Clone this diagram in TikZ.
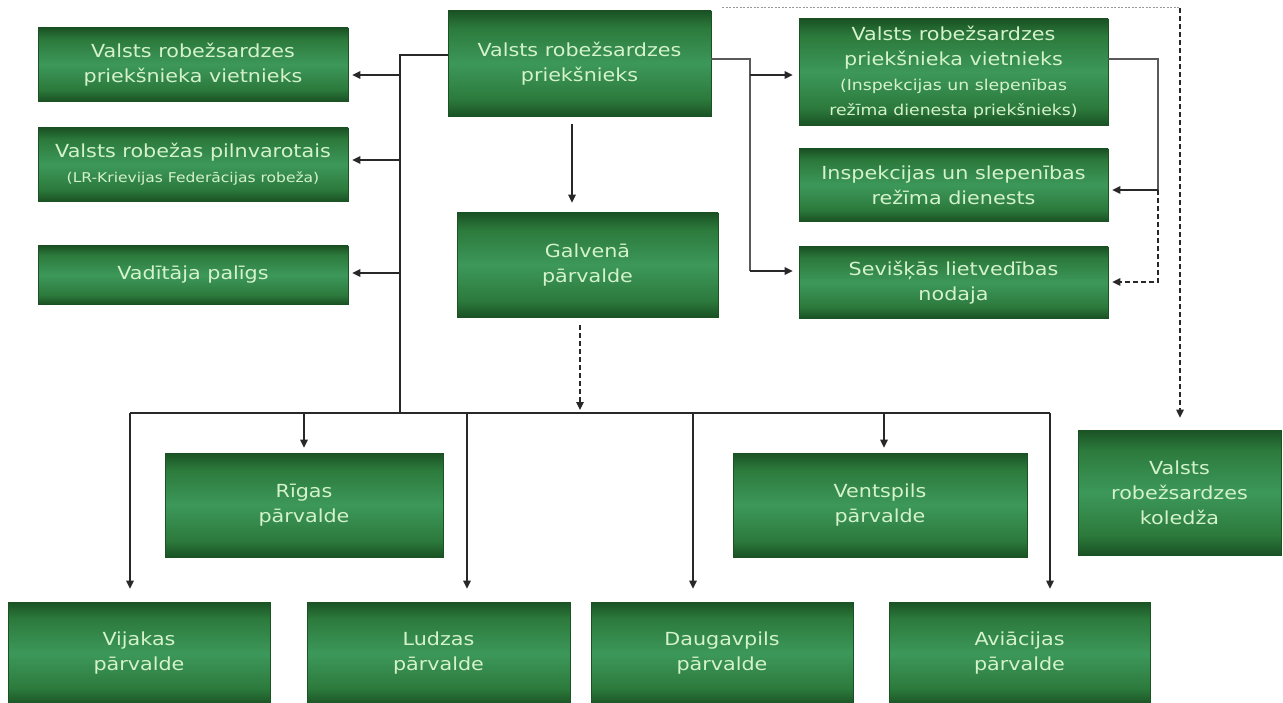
\documentclass[tikz,border=0pt]{standalone}
\usepackage{fontspec}
\setmainfont{DejaVu Sans}[FakeStretch=1.15]
\usetikzlibrary{arrows.meta}
\definecolor{gdk}{RGB}{26,82,36}
\definecolor{gmd}{RGB}{44,122,60}
\definecolor{glt}{RGB}{60,152,90}
\definecolor{gtx}{RGB}{212,242,204}
\definecolor{lnc}{RGB}{40,40,40}
\pgfdeclareverticalshading{boxshade}{100bp}{color(0bp)=(gdk); color(25bp)=(gdk); color(33bp)=(gmd); color(50bp)=(glt); color(67bp)=(gmd); color(75bp)=(gdk); color(100bp)=(gdk)}
\newcommand\fBig{\fontsize{18}{25}\selectfont}
\newcommand\fMid{\fontsize{15}{20}\selectfont}
\newcommand\fSmall{\fontsize{13.5}{19}\selectfont}
\begin{document}
\begin{tikzpicture}[x=1pt,y=-1pt,
  box/.style={rectangle, shading=boxshade, draw=gdk, line width=0.6pt, text=gtx, align=center, font=\fBig, inner sep=2pt},
  ln/.style={line width=1.1pt, draw=lnc},
  arr/.style={ln, -{Triangle[length=8pt,width=7.5pt]}},
  darr/.style={arr, dash pattern=on 5pt off 3pt},
  dotline/.style={line width=1pt, draw=black!40, dash pattern=on 2pt off 1.5pt}]
\useasboundingbox (0,0) rectangle (1283,703);

% boxes
\node[box, minimum width=310pt, minimum height=73pt] (lA) at (193,64.5) {Valsts robežsardzes\\priekšnieka vietnieks};
\node[box, minimum width=310pt, minimum height=73pt] (lB) at (193,164.5) {Valsts robežas pilnvarotais\\{\fSmall (LR-Krievijas Federācijas robeža)}};
\node[box, minimum width=310pt, minimum height=58pt] (lC) at (193,275) {Vadītāja palīgs};
\node[box, minimum width=263pt, minimum height=105pt] (top) at (579.5,63.5) {Valsts robežsardzes\\priekšnieks};
\node[box, minimum width=261pt, minimum height=104pt] (gal) at (587.5,265) {Galvenā\\pārvalde};
\node[box, minimum width=309pt, minimum height=106pt] (rA) at (953.5,72) {Valsts robežsardzes\\priekšnieka vietnieks\\{\fMid (Inspekcijas un slepenības}\\{\fMid režīma dienesta priekšnieks)}};
\node[box, minimum width=309pt, minimum height=72pt] (rB) at (953.5,185) {Inspekcijas un slepenības\\režīma dienests};
\node[box, minimum width=309pt, minimum height=71pt] (rC) at (953.5,282.5) {Sevišķās lietvedības\\nodaja};
\node[box, minimum width=278pt, minimum height=104pt] (rig) at (304,505) {Rīgas\\pārvalde};
\node[box, minimum width=294pt, minimum height=104pt] (ven) at (880,505) {Ventspils\\pārvalde};
\node[box, minimum width=203pt, minimum height=125pt] (kol) at (1179.5,492.5) {Valsts\\robežsardzes\\koledža};
\node[box, minimum width=262pt, minimum height=103pt] (vij) at (139,653.5) {Vijakas\\pārvalde};
\node[box, minimum width=263pt, minimum height=103pt] (lud) at (438.5,653.5) {Ludzas\\pārvalde};
\node[box, minimum width=262pt, minimum height=103pt] (dau) at (722,653.5) {Daugavpils\\pārvalde};
\node[box, minimum width=261pt, minimum height=103pt] (avi) at (1019.5,653.5) {Aviācijas\\pārvalde};

% left trunk
\coordinate (tl) at (400,55);
\coordinate (trB) at (400,413);
\draw[ln] (top.west |- tl) -- (tl) -- (trB);
\coordinate (a1) at (400,75);
\coordinate (a2) at (400,160);
\coordinate (a3) at (400,273);
\draw[arr, shorten >=4pt] (a1) -- (a1 -| lA.east);
\draw[arr, shorten >=4pt] (a2) -- (a2 -| lB.east);
\draw[arr, shorten >=4pt] (a3) -- (a3 -| lC.east);

% bus
\coordinate (busL) at (130,413);
\coordinate (busR) at (1050,413);
\draw[ln] (busL) -- (busR);
\foreach \x/\n/\s in {130/vij/13pt, 304/rig/5pt, 467/lud/13pt, 693/dau/13pt, 884/ven/5pt, 1050/avi/13pt}{
  \coordinate (d\n) at (\x,413);
  \draw[arr, shorten >=\s] (d\n) -- (d\n |- \n.north);
}

% top -> Galvena
\coordinate (tg) at (572,0);
\draw[arr, shorten <=8pt, shorten >=10pt] (tg |- top.south) -- (tg |- gal.north);
% Galvena -> bus (dashed)
\coordinate (gb) at (580,413);
\draw[darr, shorten <=8pt, shorten >=3pt] (gb |- gal.south) -- (gb);

% top -> right column
\coordinate (rt) at (750,59);
\coordinate (rb) at (750,271);
\coordinate (ra) at (750,75);
\draw[ln, draw=black!65] (top.east |- rt) -- (rt) -- (rb);
\draw[arr, shorten >=6pt] (ra) -- (ra -| rA.west);
\draw[arr, shorten >=6pt] (rb) -- (rb -| rC.west);

% right deputy -> services
\coordinate (q1) at (1158,59);
\coordinate (q2) at (1158,190);
\coordinate (q3) at (1158,282);
\draw[ln, draw=black!65] (rA.east |- q1) -- (q1) -- (q2);
\draw[arr, shorten >=4pt] (q2) -- (q2 -| rB.east);
\draw[darr, shorten >=4pt] (q2) -- (q3) -- (q3 -| rC.east);

% dotted line to college
\coordinate (e1) at (722,8);
\coordinate (e2) at (1180,8);
\draw[dotline] (e1) -- (e2);
\draw[darr, shorten >=12pt] (e2) -- (e2 |- kol.north);
\end{tikzpicture}
\end{document}
